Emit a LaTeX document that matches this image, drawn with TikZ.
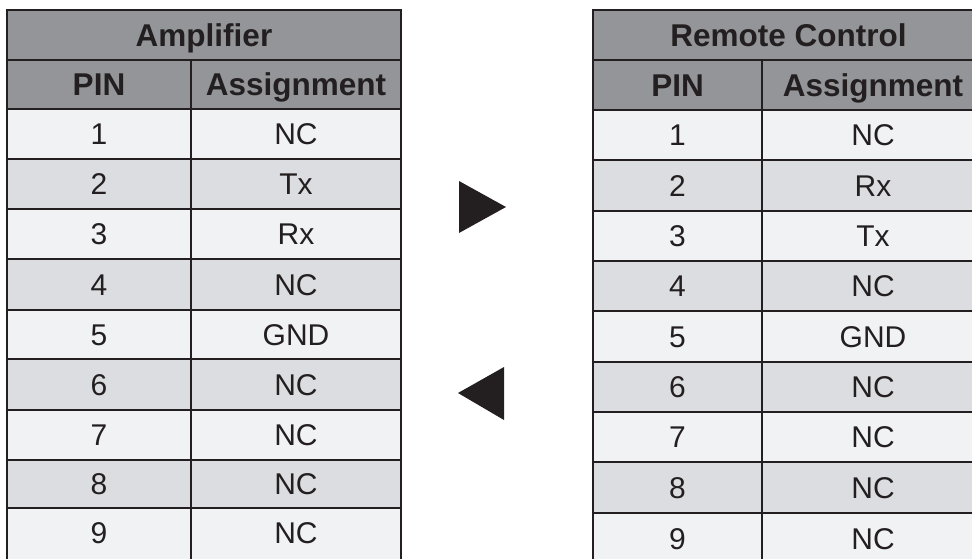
\documentclass[tikz,border=0pt]{standalone}
\usepackage{fontspec}
\setmainfont{Liberation Sans}
\definecolor{ink}{HTML}{231F20}
\definecolor{hdr}{HTML}{939598}
\definecolor{rowA}{HTML}{F1F2F4}
\definecolor{rowB}{HTML}{DCDDE0}
\begin{document}
\begin{tikzpicture}[x=1pt,y=-1pt,
  gridline/.style={draw=ink,line width=2.6pt},
  hd/.style={font=\fontsize{31.5}{36}\selectfont\bfseries,text=ink,anchor=base,inner sep=0pt},
  cell/.style={font=\fontsize{30}{36}\selectfont,text=ink,anchor=base,inner sep=0pt},
  tri/.style={fill=ink}]
\useasboundingbox (0,0) rectangle (972,558);

% ---------------- Left table (Amplifier) ----------------
\fill[hdr] (7,10) rectangle (401,109);
\foreach \t/\b/\c in {109/159/rowA,159/209/rowB,209/259/rowA,259/310/rowB,310/359/rowA,359/410/rowB,410/460/rowA,460/508/rowB,508/562/rowA}
  \fill[\c] (7,\t) rectangle (401,\b);
\foreach \y in {60,109,159,209,259,310,359,410,460,508}
  \draw[gridline] (7,\y) -- (401,\y);
\draw[gridline] (191,60) -- (191,562);
\draw[gridline] (7,562) -- (7,10) -- (401,10) -- (401,562);

\node[hd] (Lt) at (204,35+11.3) {Amplifier};
\node[hd] (Lp) at (99,84.5+11.3) {PIN};
\node[hd] (La) at (296,84.5+11.3) {Assignment};
\foreach \n/\t/\b/\a in {1/109/159/NC,2/159/209/Tx,3/209/259/Rx,4/259/310/NC,5/310/359/GND,6/359/410/NC,7/410/460/NC,8/460/508/NC,9/508/558/NC}{
  \node[cell] (Lp\n) at (99,{(\t+\b)/2+10.8}) {\n};
  \node[cell] (La\n) at (296,{(\t+\b)/2+10.8}) {\a};
}

% ---------------- Right table (Remote Control) ----------------
\fill[hdr] (593,10) rectangle (990,110);
\foreach \t/\b/\c in {110/160/rowA,160/211/rowB,211/261/rowA,261/311/rowB,311/362/rowA,362/412/rowB,412/462/rowA,462/513/rowB,513/566/rowA}
  \fill[\c] (593,\t) rectangle (990,\b);
\foreach \y in {60,110,160,211,261,311,362,412,462,513}
  \draw[gridline] (593,\y) -- (990,\y);
\draw[gridline] (762,60) -- (762,566);
\draw[gridline] (593,566) -- (593,10) -- (990,10);

\node[hd] (Rt) at (788.5,35+11.3) {Remote Control};
\node[hd] (Rp) at (677.5,85+11.3) {PIN};
\node[hd] (Ra) at (873,85+11.3) {Assignment};
\foreach \n/\t/\b/\a in {1/110/160/NC,2/160/211/Rx,3/211/261/Tx,4/261/311/NC,5/311/362/GND,6/362/412/NC,7/412/462/NC,8/462/513/NC,9/513/564/NC}{
  \node[cell] (Rp\n) at (677.5,{(\t+\b)/2+10.8}) {\n};
  \node[cell] (Ra\n) at (873,{(\t+\b)/2+10.8}) {\a};
}

% ---------------- Direction triangles ----------------
\fill[tri] (459,181) -- (506,207) -- (459,233) -- cycle;
\fill[tri] (504,367) -- (458,393) -- (504,420) -- cycle;
\end{tikzpicture}
\end{document}
